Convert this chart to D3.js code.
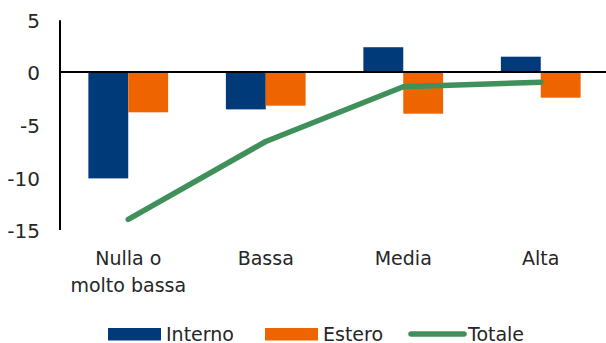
<!DOCTYPE html>
<html><head><meta charset="utf-8">
<script src="https://cdn.jsdelivr.net/npm/d3@7"></script>
<style>body{margin:0;background:#fff}svg{display:block}text{font-family:"DejaVu Sans",sans-serif;fill:#262626}</style>
</head><body><svg id="c" width="606" height="343"></svg>
<script>
const categories = [["Nulla o","molto bassa"],["Bassa"],["Media"],["Alta"]];
const interno = [-10.1, -3.55, 2.35, 1.45];
const estero = [-3.83, -3.2, -3.96, -2.44];
const totale = [-14.0, -6.6, -1.4, -0.98];
const yTicks = [5, 0, -5, -10, -15];
const seriesNames = ["Interno", "Estero", "Totale"];
const colors = {Interno: "#003a78", Estero: "#ee6500", Totale: "#3f905a"};

const svg = d3.select("#c");
const idx = d3.range(categories.length);
const x = d3.scaleBand().domain(idx).range([59.5, 609.5]).paddingInner(0.42).paddingOuter(0.21);
const xs = d3.scaleBand().domain(["Interno","Estero"]).range([0, x.bandwidth()]);
const y = d3.scaleLinear().domain([-15, 5]).range([230, 19.3]);

// y axis labels
svg.append("g").selectAll("text").data(yTicks).join("text")
  .attr("x", 40).attr("y", d => y(d) + 1).attr("dy", "0.36em")
  .attr("text-anchor", "end").style("font-size", "20px").text(d => d);

// bars
const g = svg.append("g");
g.selectAll("rect.i").data(interno).join("rect")
  .attr("x", (d,i) => x(i) + xs("Interno")).attr("width", xs.bandwidth())
  .attr("y", d => y(Math.max(0,d))).attr("height", d => Math.abs(y(d)-y(0)))
  .attr("fill", colors.Interno);
g.selectAll("rect.e").data(estero).join("rect")
  .attr("x", (d,i) => x(i) + xs("Estero")).attr("width", xs.bandwidth())
  .attr("y", d => y(Math.max(0,d))).attr("height", d => Math.abs(y(d)-y(0)))
  .attr("fill", colors.Estero);

// axes lines
svg.append("line").attr("x1", 60).attr("x2", 606).attr("y1", y(0)).attr("y2", y(0))
  .attr("stroke", "#000").attr("stroke-width", 2);
svg.append("line").attr("x1", 60).attr("x2", 60).attr("y1", y(5)+1).attr("y2", y(-15))
  .attr("stroke", "#000").attr("stroke-width", 2);

// line
svg.append("path").datum(totale)
  .attr("d", d3.line().x((d,i) => x(i) + x.bandwidth()/2).y(d => y(d)))
  .attr("fill", "none").attr("stroke", colors.Totale).attr("stroke-width", 5.5)
  .attr("stroke-linecap", "round").attr("stroke-linejoin", "round");

// category labels
const cl = svg.append("g").selectAll("text").data(categories).join("text")
  .attr("x", (d,i) => x(i) + x.bandwidth()/2).attr("y", 265).attr("text-anchor", "middle").style("font-size", "19px");
cl.selectAll("tspan").data(d => d).join("tspan")
  .attr("x", function(){ return d3.select(this.parentNode).attr("x"); })
  .attr("dy", (d,i) => i ? 27 : 0).text(d => d);

// legend
const leg = [{n:"Interno", x:108, t:"rect", tx:166}, {n:"Estero", x:265, t:"rect", tx:323}, {n:"Totale", x:408, t:"line", tx:468}];
const lg = svg.append("g");
leg.forEach(l => {
  if (l.t === "rect") lg.append("rect").attr("x", l.x).attr("y", 328).attr("width", 53).attr("height", 12.5).attr("fill", colors[l.n]);
  else lg.append("line").attr("x1", l.x+3).attr("x2", l.x+56).attr("y1", 334).attr("y2", 334)
    .attr("stroke", colors.Totale).attr("stroke-width", 5.5).attr("stroke-linecap", "round");
  lg.append("text").attr("x", l.tx).attr("y", 340.5).style("font-size", "19px").text(l.n);
});
</script></body></html>
